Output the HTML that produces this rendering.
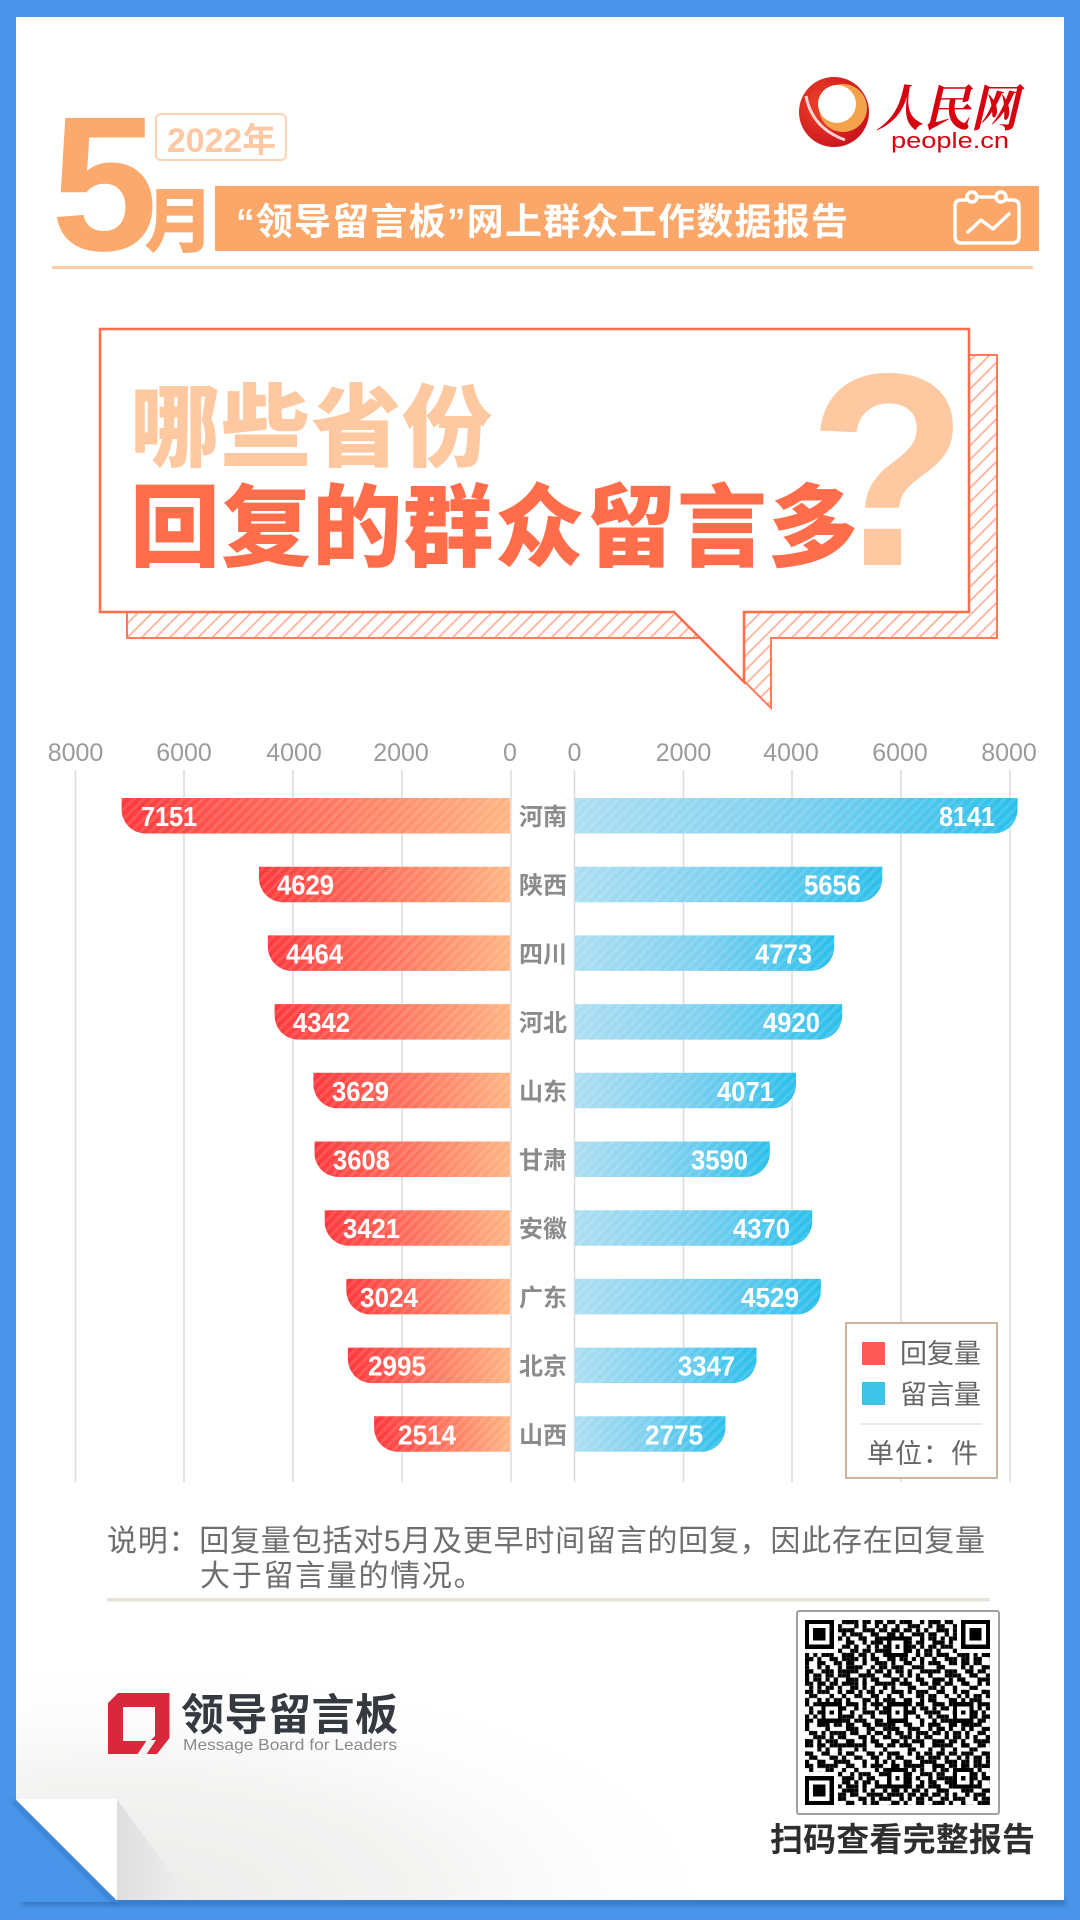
<!DOCTYPE html>
<html lang="zh-CN">
<head>
<meta charset="utf-8">
<style>
html,body{margin:0;padding:0;width:1080px;height:1920px;overflow:hidden;background:#4A95E9;}
svg{display:block;}
text{font-family:"Liberation Sans","Noto Sans CJK SC",sans-serif;}
.cjk{font-family:"Liberation Sans","Noto Sans CJK SC",sans-serif;}
</style>
</head>
<body>
<svg width="1080" height="1920" viewBox="0 0 1080 1920" xmlns="http://www.w3.org/2000/svg">
<defs>
  <pattern id="hatch" width="10" height="10" patternUnits="userSpaceOnUse" patternTransform="rotate(45)">
    <rect width="10" height="10" fill="#ffffff"/>
    <rect x="0" y="0" width="1.8" height="10" fill="#FFB39A"/>
  </pattern>
  <pattern id="st" width="7" height="7" patternUnits="userSpaceOnUse" patternTransform="rotate(45)">
    <rect width="3" height="7" fill="#ffffff" fill-opacity="0.12"/>
  </pattern>
  <linearGradient id="gl" x1="0" y1="0" x2="1" y2="0">
    <stop offset="0" stop-color="#FF383C"/>
    <stop offset="0.45" stop-color="#FF6E5C"/>
    <stop offset="1" stop-color="#FFB583"/>
  </linearGradient>
  <linearGradient id="gr" x1="0" y1="0" x2="1" y2="0">
    <stop offset="0" stop-color="#ADDEF2"/>
    <stop offset="0.5" stop-color="#7DD0EF"/>
    <stop offset="1" stop-color="#2BBFEB"/>
  </linearGradient>
  <radialGradient id="fg" cx="0.1" cy="1" r="0.6">
    <stop offset="0" stop-color="#ECEBEA"/>
    <stop offset="0.5" stop-color="#F4F4F3"/>
    <stop offset="1" stop-color="#ffffff" stop-opacity="0"/>
  </radialGradient>
  <linearGradient id="flapsh" x1="0" y1="0" x2="1" y2="0">
    <stop offset="0" stop-color="#DFDFDF"/>
    <stop offset="1" stop-color="#EFEFEF"/>
  </linearGradient>
  <radialGradient id="logoR" cx="0.35" cy="0.4" r="0.7">
    <stop offset="0" stop-color="#F0452A"/>
    <stop offset="1" stop-color="#C8101A"/>
  </radialGradient>
  <filter id="blur2" x="-20%" y="-50%" width="140%" height="200%"><feGaussianBlur stdDeviation="2"/></filter>
  <pattern id="qa" width="7" height="5" patternUnits="userSpaceOnUse">
    <rect x="0" y="0" width="1" height="1"/><rect x="3" y="0" width="2" height="1"/><rect x="5" y="1" width="1" height="1"/>
    <rect x="1" y="2" width="1" height="1"/><rect x="4" y="2" width="1" height="1"/><rect x="2" y="3" width="1" height="1"/>
    <rect x="6" y="3" width="1" height="1"/><rect x="0" y="4" width="1" height="1"/><rect x="3" y="4" width="1" height="1"/>
  </pattern>
  <pattern id="qb" width="11" height="3" patternUnits="userSpaceOnUse">
    <rect x="1" y="0" width="1" height="1"/><rect x="6" y="0" width="1" height="1"/><rect x="9" y="0" width="1" height="1"/>
    <rect x="3" y="1" width="1" height="1"/><rect x="8" y="1" width="1" height="1"/><rect x="0" y="2" width="1" height="1"/>
    <rect x="5" y="2" width="1" height="1"/><rect x="10" y="2" width="1" height="1"/>
  </pattern>
  <pattern id="qc" width="5" height="13" patternUnits="userSpaceOnUse">
    <rect x="0" y="0" width="1" height="1"/><rect x="2" y="1" width="1" height="1"/><rect x="4" y="2" width="1" height="1"/>
    <rect x="1" y="3" width="1" height="1"/><rect x="3" y="4" width="1" height="1"/><rect x="0" y="6" width="1" height="1"/>
    <rect x="2" y="7" width="1" height="1"/><rect x="4" y="8" width="1" height="1"/><rect x="1" y="9" width="1" height="1"/>
    <rect x="3" y="11" width="1" height="1"/><rect x="0" y="12" width="1" height="1"/>
  </pattern>
</defs>

<!-- background and card -->
<rect x="0" y="0" width="1080" height="1920" fill="#4A95E9"/>
<rect x="22" y="1899" width="1044" height="7" fill="#2A64AE" opacity="0.55" filter="url(#blur2)"/>
<rect x="16" y="17" width="1048" height="1883" fill="#ffffff"/>
<rect x="16" y="1480" width="1048" height="420" fill="url(#fg)"/>

<!-- header -->
<text x="51" y="250" font-size="192" font-weight="bold" fill="#FCA96D">5</text>
<text x="144" y="246" font-size="70" font-weight="900" fill="#FCA96D" class="cjk">月</text>
<rect x="156" y="114" width="130" height="46" rx="5" fill="none" stroke="#FDD3B5" stroke-width="2"/>
<text x="167" y="152" font-size="34" font-weight="bold" fill="#FDC8A3" textLength="109" lengthAdjust="spacingAndGlyphs">2022年</text>
<rect x="215" y="186" width="824" height="65" fill="#FCA76A"/>
<text x="236" y="234.5" font-size="37" font-weight="bold" fill="#ffffff" textLength="612">“领导留言板”网上群众工作数据报告</text>
<!-- calendar icon -->
<g fill="none" stroke="#ffffff" stroke-width="3.5" stroke-linecap="round" stroke-linejoin="round">
  <path d="M965,200 H961 Q955,200 955,206 V236 Q955,243 961,243 H1012 Q1019,243 1019,236 V206 Q1019,200 1012,200 H1008"/>
  <circle cx="972" cy="197" r="5"/>
  <circle cx="1001" cy="197" r="5"/>
  <line x1="980" y1="197" x2="993" y2="197"/>
  <polyline points="968,232 981,220 993,229 1009,214"/>
</g>
<rect x="52" y="266" width="981" height="3" fill="#FDCBA6"/>

<!-- people.cn logo -->
<circle cx="834" cy="112" r="35" fill="url(#logoR)"/>
<circle cx="843" cy="108" r="24" fill="#F4A24C"/>
<circle cx="837" cy="104" r="19" fill="#ffffff"/>
<path d="M806,96 Q812,128 845,140" fill="none" stroke="#ffffff" stroke-width="3" opacity="0.8"/>
<text x="876" y="126" font-size="50" font-weight="bold" fill="#D6000F" font-style="italic" textLength="142" lengthAdjust="spacingAndGlyphs" style="font-family:'Liberation Serif','Noto Serif CJK SC',serif;">人民网</text>
<text x="891" y="148" font-size="22" fill="#D6000F" textLength="118" lengthAdjust="spacingAndGlyphs">people.cn</text>

<!-- speech bubble -->
<polygon points="127,355 997,355 997,638 771,638 771,708 701,638 127,638" fill="url(#hatch)" stroke="#FF7B57" stroke-width="2"/>
<polygon points="100,329 969,329 969,612 744,612 744,682 674,612 100,612" fill="#ffffff" stroke="#FF6D4A" stroke-width="2.5"/>
<text x="130" y="459" font-size="90" font-weight="900" fill="#FEC8A0" textLength="362" class="cjk">哪些省份</text>
<text x="130" y="559" font-size="90" font-weight="900" fill="#FF6D4B" textLength="728" class="cjk">回复的群众留言多</text>
<text x="808" y="565" font-size="275" font-weight="bold" fill="#FEC8A0" textLength="160" lengthAdjust="spacingAndGlyphs">?</text>

<!-- chart grid -->
<g stroke="#DCDCDC" stroke-width="1.5">
  <line x1="75.5" y1="770" x2="75.5" y2="1482"/>
  <line x1="184" y1="770" x2="184" y2="1482"/>
  <line x1="293" y1="770" x2="293" y2="1482"/>
  <line x1="402" y1="770" x2="402" y2="1482"/>
  <line x1="511" y1="770" x2="511" y2="1482"/>
  <line x1="574.5" y1="770" x2="574.5" y2="1482"/>
  <line x1="683.5" y1="770" x2="683.5" y2="1482"/>
  <line x1="792" y1="770" x2="792" y2="1482"/>
  <line x1="901" y1="770" x2="901" y2="1482"/>
  <line x1="1010" y1="770" x2="1010" y2="1482"/>
</g>
<g font-size="25" fill="#9B9B9B" text-anchor="middle">
  <text x="75.5" y="761">8000</text>
  <text x="184" y="761">6000</text>
  <text x="294" y="761">4000</text>
  <text x="401" y="761">2000</text>
  <text x="510" y="761">0</text>
  <text x="574.5" y="761">0</text>
  <text x="683.5" y="761">2000</text>
  <text x="791" y="761">4000</text>
  <text x="900" y="761">6000</text>
  <text x="1009" y="761">8000</text>
</g>

<!-- left bars -->
<g>
  <path d="M121.6,798 H510 V833.5 H145.6 A24,24 0 0 1 121.6,809.5 Z" fill="url(#gl)"/>
  <path d="M259,866.7 H510 V902.2 H283 A24,24 0 0 1 259,878.2 Z" fill="url(#gl)"/>
  <path d="M267.9,935.4 H510 V970.9 H291.9 A24,24 0 0 1 267.9,946.9 Z" fill="url(#gl)"/>
  <path d="M274.6,1004.1 H510 V1039.6 H298.6 A24,24 0 0 1 274.6,1015.6 Z" fill="url(#gl)"/>
  <path d="M313.4,1072.8 H510 V1108.3 H337.4 A24,24 0 0 1 313.4,1084.3 Z" fill="url(#gl)"/>
  <path d="M314.5,1141.5 H510 V1177 H338.5 A24,24 0 0 1 314.5,1153 Z" fill="url(#gl)"/>
  <path d="M324.7,1210.2 H510 V1245.7 H348.7 A24,24 0 0 1 324.7,1221.7 Z" fill="url(#gl)"/>
  <path d="M346.3,1278.9 H510 V1314.4 H370.3 A24,24 0 0 1 346.3,1290.4 Z" fill="url(#gl)"/>
  <path d="M347.9,1347.6 H510 V1383.1 H371.9 A24,24 0 0 1 347.9,1359.1 Z" fill="url(#gl)"/>
  <path d="M374.1,1416.3 H510 V1451.8 H398.1 A24,24 0 0 1 374.1,1427.8 Z" fill="url(#gl)"/>
</g>
<g fill="url(#st)">
  <path d="M121.6,798 H510 V833.5 H145.6 A24,24 0 0 1 121.6,809.5 Z"/>
  <path d="M259,866.7 H510 V902.2 H283 A24,24 0 0 1 259,878.2 Z"/>
  <path d="M267.9,935.4 H510 V970.9 H291.9 A24,24 0 0 1 267.9,946.9 Z"/>
  <path d="M274.6,1004.1 H510 V1039.6 H298.6 A24,24 0 0 1 274.6,1015.6 Z"/>
  <path d="M313.4,1072.8 H510 V1108.3 H337.4 A24,24 0 0 1 313.4,1084.3 Z"/>
  <path d="M314.5,1141.5 H510 V1177 H338.5 A24,24 0 0 1 314.5,1153 Z"/>
  <path d="M324.7,1210.2 H510 V1245.7 H348.7 A24,24 0 0 1 324.7,1221.7 Z"/>
  <path d="M346.3,1278.9 H510 V1314.4 H370.3 A24,24 0 0 1 346.3,1290.4 Z"/>
  <path d="M347.9,1347.6 H510 V1383.1 H371.9 A24,24 0 0 1 347.9,1359.1 Z"/>
  <path d="M374.1,1416.3 H510 V1451.8 H398.1 A24,24 0 0 1 374.1,1427.8 Z"/>
</g>

<!-- right bars -->
<g>
  <path d="M575,798 H1017.6 V809.5 A24,24 0 0 1 993.6,833.5 H575 Z" fill="url(#gr)"/>
  <path d="M575,866.7 H882.3 V878.2 A24,24 0 0 1 858.3,902.2 H575 Z" fill="url(#gr)"/>
  <path d="M575,935.4 H834.2 V946.9 A24,24 0 0 1 810.2,970.9 H575 Z" fill="url(#gr)"/>
  <path d="M575,1004.1 H842.2 V1015.6 A24,24 0 0 1 818.2,1039.6 H575 Z" fill="url(#gr)"/>
  <path d="M575,1072.8 H796 V1084.3 A24,24 0 0 1 772,1108.3 H575 Z" fill="url(#gr)"/>
  <path d="M575,1141.5 H769.8 V1153 A24,24 0 0 1 745.8,1177 H575 Z" fill="url(#gr)"/>
  <path d="M575,1210.2 H812.2 V1221.7 A24,24 0 0 1 788.2,1245.7 H575 Z" fill="url(#gr)"/>
  <path d="M575,1278.9 H820.9 V1290.4 A24,24 0 0 1 796.9,1314.4 H575 Z" fill="url(#gr)"/>
  <path d="M575,1347.6 H756.5 V1359.1 A24,24 0 0 1 732.5,1383.1 H575 Z" fill="url(#gr)"/>
  <path d="M575,1416.3 H725.4 V1427.8 A24,24 0 0 1 701.4,1451.8 H575 Z" fill="url(#gr)"/>
</g>
<g fill="url(#st)">
  <path d="M575,798 H1017.6 V809.5 A24,24 0 0 1 993.6,833.5 H575 Z"/>
  <path d="M575,866.7 H882.3 V878.2 A24,24 0 0 1 858.3,902.2 H575 Z"/>
  <path d="M575,935.4 H834.2 V946.9 A24,24 0 0 1 810.2,970.9 H575 Z"/>
  <path d="M575,1004.1 H842.2 V1015.6 A24,24 0 0 1 818.2,1039.6 H575 Z"/>
  <path d="M575,1072.8 H796 V1084.3 A24,24 0 0 1 772,1108.3 H575 Z"/>
  <path d="M575,1141.5 H769.8 V1153 A24,24 0 0 1 745.8,1177 H575 Z"/>
  <path d="M575,1210.2 H812.2 V1221.7 A24,24 0 0 1 788.2,1245.7 H575 Z"/>
  <path d="M575,1278.9 H820.9 V1290.4 A24,24 0 0 1 796.9,1314.4 H575 Z"/>
  <path d="M575,1347.6 H756.5 V1359.1 A24,24 0 0 1 732.5,1383.1 H575 Z"/>
  <path d="M575,1416.3 H725.4 V1427.8 A24,24 0 0 1 701.4,1451.8 H575 Z"/>
</g>

<!-- value labels -->
<g font-size="28" font-weight="bold" fill="#ffffff">
  <text x="141" y="826" textLength="56" lengthAdjust="spacingAndGlyphs">7151</text>
  <text x="277" y="894.7" textLength="57" lengthAdjust="spacingAndGlyphs">4629</text>
  <text x="286" y="963.4" textLength="57" lengthAdjust="spacingAndGlyphs">4464</text>
  <text x="293" y="1032.1" textLength="57" lengthAdjust="spacingAndGlyphs">4342</text>
  <text x="332" y="1100.8" textLength="57" lengthAdjust="spacingAndGlyphs">3629</text>
  <text x="333" y="1169.5" textLength="57" lengthAdjust="spacingAndGlyphs">3608</text>
  <text x="343" y="1238.2" textLength="57" lengthAdjust="spacingAndGlyphs">3421</text>
  <text x="360" y="1306.9" textLength="58" lengthAdjust="spacingAndGlyphs">3024</text>
  <text x="368" y="1375.6" textLength="58" lengthAdjust="spacingAndGlyphs">2995</text>
  <text x="398" y="1444.3" textLength="58" lengthAdjust="spacingAndGlyphs">2514</text>

  <text x="939" y="826" textLength="56" lengthAdjust="spacingAndGlyphs">8141</text>
  <text x="804" y="894.7" textLength="57" lengthAdjust="spacingAndGlyphs">5656</text>
  <text x="755" y="963.4" textLength="57" lengthAdjust="spacingAndGlyphs">4773</text>
  <text x="763" y="1032.1" textLength="57" lengthAdjust="spacingAndGlyphs">4920</text>
  <text x="717" y="1100.8" textLength="57" lengthAdjust="spacingAndGlyphs">4071</text>
  <text x="691" y="1169.5" textLength="57" lengthAdjust="spacingAndGlyphs">3590</text>
  <text x="733" y="1238.2" textLength="57" lengthAdjust="spacingAndGlyphs">4370</text>
  <text x="741" y="1306.9" textLength="58" lengthAdjust="spacingAndGlyphs">4529</text>
  <text x="678" y="1375.6" textLength="57" lengthAdjust="spacingAndGlyphs">3347</text>
  <text x="645" y="1444.3" textLength="58" lengthAdjust="spacingAndGlyphs">2775</text>
</g>

<!-- province labels -->
<g font-size="24" font-weight="bold" fill="#8B8B8B" text-anchor="middle" class="cjk">
  <text x="543" y="825">河南</text>
  <text x="543" y="893.7">陕西</text>
  <text x="543" y="962.4">四川</text>
  <text x="543" y="1031.1">河北</text>
  <text x="543" y="1099.8">山东</text>
  <text x="543" y="1168.5">甘肃</text>
  <text x="543" y="1237.2">安徽</text>
  <text x="543" y="1305.9">广东</text>
  <text x="543" y="1374.6">北京</text>
  <text x="543" y="1443.3">山西</text>
</g>

<!-- legend -->
<rect x="846" y="1323" width="151" height="155" fill="#ffffff" stroke="#CCB49D" stroke-width="2"/>
<rect x="862" y="1342" width="23" height="23" fill="#FF5A55"/>
<rect x="862" y="1382" width="23" height="23" fill="#3EC2EA"/>
<g font-size="27" fill="#666666" class="cjk">
  <text x="900" y="1363">回复量</text>
  <text x="900" y="1404">留言量</text>
  <text x="867" y="1463" textLength="111">单位：件</text>
</g>
<line x1="860" y1="1424" x2="982" y2="1424" stroke="#E3E3E3" stroke-width="1.5"/>

<!-- note -->
<g font-size="30" fill="#6E6E6E" class="cjk">
  <text x="107" y="1551" textLength="878">说明：回复量包括对5月及更早时间留言的回复，因此存在回复量</text>
  <text x="200" y="1586" letter-spacing="1.7">大于留言量的情况。</text>
</g>
<rect x="107" y="1598" width="883" height="3.5" fill="#E9E2DA"/>

<!-- footer logo -->
<path fill-rule="evenodd" fill="#D9283C" d="M118,1693 H169.5 V1738 L157,1754 H108 V1703 Z M123,1707 H155 V1736 L150,1741 H123 Z"/>
<polygon points="137,1755 146,1755 156,1740 147,1740" fill="#F3F3F2"/>
<text x="181" y="1730" font-size="43" font-weight="bold" fill="#343A40" textLength="217" class="cjk">领导留言板</text>
<text x="183" y="1750" font-size="16" fill="#8A8A8A" textLength="214" lengthAdjust="spacingAndGlyphs">Message Board for Leaders</text>

<!-- QR -->
<rect x="797" y="1611" width="202" height="203" rx="2" fill="#ffffff" stroke="#A0A0A0" stroke-width="2"/>
<g transform="translate(805,1620) scale(4.11)" shape-rendering="crispEdges" fill="#000000">
  <rect width="45" height="45" fill="url(#qa)"/>
  <rect width="45" height="45" fill="url(#qb)"/>
  <rect width="45" height="45" fill="url(#qc)"/>
  <rect x="0" y="0" width="8" height="8" fill="#ffffff"/>
  <rect x="37" y="0" width="8" height="8" fill="#ffffff"/>
  <rect x="0" y="37" width="8" height="8" fill="#ffffff"/>
  <rect x="0" y="0" width="7" height="7"/><rect x="1" y="1" width="5" height="5" fill="#ffffff"/><rect x="2" y="2" width="3" height="3"/>
  <rect x="38" y="0" width="7" height="7"/><rect x="39" y="1" width="5" height="5" fill="#ffffff"/><rect x="40" y="2" width="3" height="3"/>
  <rect x="0" y="38" width="7" height="7"/><rect x="1" y="39" width="5" height="5" fill="#ffffff"/><rect x="2" y="40" width="3" height="3"/>
  <rect x="4" y="20" width="5" height="5"/><rect x="5" y="21" width="3" height="3" fill="#ffffff"/><rect x="6" y="22" width="1" height="1"/>
  <rect x="20" y="4" width="5" height="5"/><rect x="21" y="5" width="3" height="3" fill="#ffffff"/><rect x="22" y="6" width="1" height="1"/>
  <rect x="20" y="20" width="5" height="5"/><rect x="21" y="21" width="3" height="3" fill="#ffffff"/><rect x="22" y="22" width="1" height="1"/>
  <rect x="36" y="20" width="5" height="5"/><rect x="37" y="21" width="3" height="3" fill="#ffffff"/><rect x="38" y="22" width="1" height="1"/>
  <rect x="20" y="36" width="5" height="5"/><rect x="21" y="37" width="3" height="3" fill="#ffffff"/><rect x="22" y="38" width="1" height="1"/>
  <rect x="36" y="36" width="5" height="5"/><rect x="37" y="37" width="3" height="3" fill="#ffffff"/><rect x="38" y="38" width="1" height="1"/>
</g>
<text x="770" y="1851" font-size="33" font-weight="bold" fill="#2E2E2E" textLength="265" class="cjk">扫码查看完整报告</text>

<!-- page curl -->
<polygon points="14,1798 118,1902 14,1902" fill="#4A95E9"/>
<line x1="14" y1="1801" x2="115" y2="1903" stroke="#1F5AA5" stroke-width="4" opacity="0.45" filter="url(#blur2)"/>
<polygon points="117,1799 190,1900 117,1900" fill="url(#flapsh)"/>
<polygon points="16,1799 117,1799 117,1900" fill="#ffffff"/>
</svg>
</body>
</html>
